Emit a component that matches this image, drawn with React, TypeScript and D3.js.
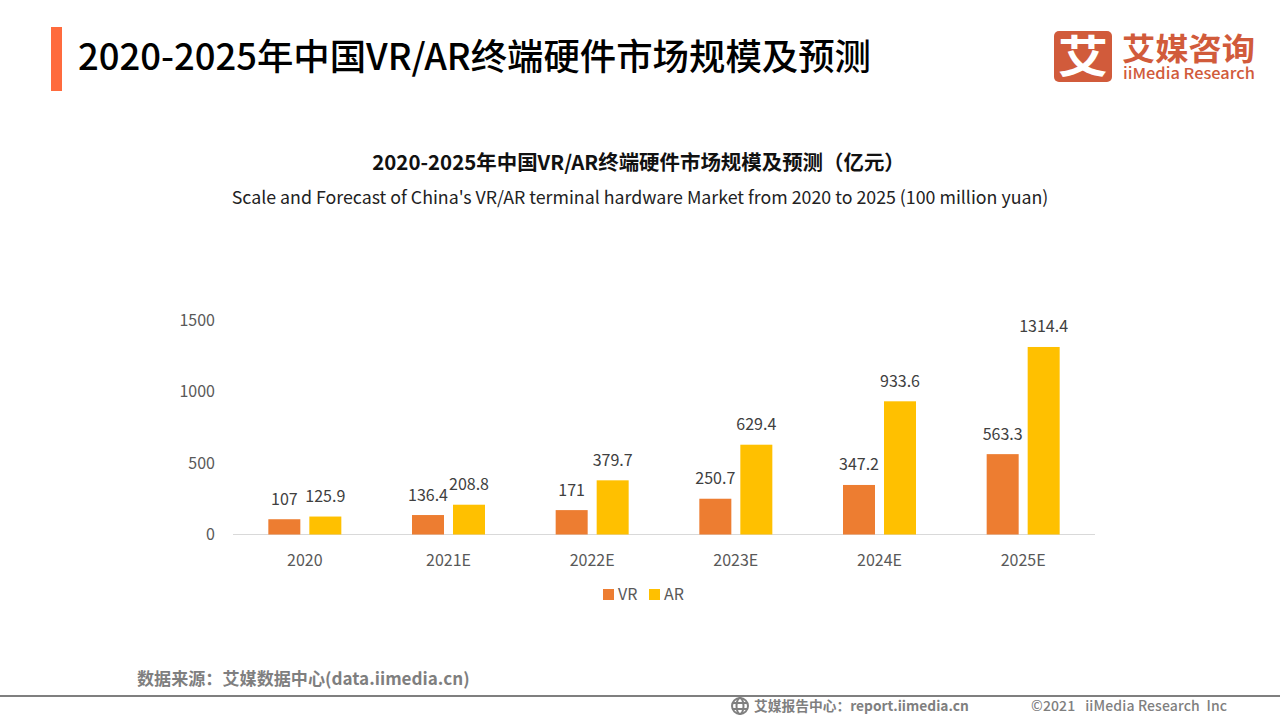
import React from "react";
import * as d3 from "d3";

const categories = ["2020", "2021E", "2022E", "2023E", "2024E", "2025E"];
const vrValues = [107, 136.4, 171, 250.7, 347.2, 563.3];
const arValues = [125.9, 208.8, 379.7, 629.4, 933.6, 1314.4];
const yTicks = [0, 500, 1000, 1500];
const seriesNames = ["VR", "AR"];
const seriesColors = ["#ED7D31", "#FFC000"];

const FONT = '"Noto Sans CJK SC", "Noto Sans", sans-serif';

export default function App() {
  const x = d3.scaleBand<string>().domain(categories).range([233, 1095]).paddingInner(0).paddingOuter(0);
  const y = d3.scaleLinear().domain([0, 1500]).range([534.5, 320.5]);
  const inner = d3.scaleBand<string>().domain(seriesNames).range([0, 73]).paddingInner(0.2195);
  const groupOffset = (x.bandwidth() - 73) / 2;
  const series = [vrValues, arValues];

  return (
    <svg width={1280} height={720} style={{ position: "absolute", left: 0, top: 0, background: "#fff" }} fontFamily={FONT}>
      <rect x={51} y={27} width={11} height={64} fill="#FF6B3D" />
      <text x={78} y={69.5} fontSize={36.4} fontWeight={500} fill="#000">2020-2025年中国VR/AR终端硬件市场规模及预测</text>

      {/* logo */}
      <rect x={1054} y={31} width={58} height={51} rx={5} fill="#D15B3B" />
      <text x={1083} y={73} fontSize={44} fontWeight={700} fill="#fff" textAnchor="middle" textLength={50} lengthAdjust="spacingAndGlyphs">艾</text>
      <text x={1122} y={60} fontSize={31} fontWeight={700} fill="#D15B3B" textLength={133} lengthAdjust="spacingAndGlyphs">艾媒咨询</text>
      <text x={1123} y={78.5} fontSize={15} fontWeight={500} fill="#D15B3B" textLength={132} lengthAdjust="spacingAndGlyphs">iiMedia Research</text>

      <text x={638.5} y={170} fontSize={20.45} fontWeight={700} fill="#111" textAnchor="middle">2020-2025年中国VR/AR终端硬件市场规模及预测（亿元）</text>
      <text x={640} y={203.5} fontSize={17.8} fill="#222" textAnchor="middle">Scale and Forecast of China's VR/AR terminal hardware Market from 2020 to 2025 (100 million yuan)</text>

      {yTicks.map((t) => (
        <text key={t} x={215} y={y(t) + 5.5} fontSize={16} fill="#595959" textAnchor="end">{t}</text>
      ))}
      <line x1={233} x2={1095} y1={y(0)} y2={y(0)} stroke="#D9D9D9" strokeWidth={1} />

      {categories.map((c, i) => (
        <g key={c}>
          {seriesNames.map((s, k) => {
            const v = series[k][i];
            const bx = (x(c) as number) + groupOffset + (inner(s) as number);
            return (
              <g key={s}>
                <rect x={bx} y={y(v)} width={inner.bandwidth()} height={y(0) - y(v)} fill={seriesColors[k]} />
                <text x={bx + inner.bandwidth() / 2} y={y(v) - 14.5} fontSize={16} fill="#404040" textAnchor="middle">{v}</text>
              </g>
            );
          })}
          <text x={(x(c) as number) + x.bandwidth() / 2} y={565.5} fontSize={16} fill="#595959" textAnchor="middle">{c}</text>
        </g>
      ))}

      {seriesNames.map((s, k) => (
        <g key={s} transform={`translate(${603 + k * 46},589)`}>
          <rect width={11} height={11} fill={seriesColors[k]} />
          <text x={15} y={11} fontSize={16} fill="#595959">{s}</text>
        </g>
      ))}

      <text x={137} y={684.5} fontSize={17.1} fontWeight={700} fill="#7F7F7F">数据来源：艾媒数据中心(data.iimedia.cn)</text>
      <line x1={0} x2={1280} y1={696} y2={696} stroke="#7F7F7F" strokeWidth={2} />

      {/* globe icon */}
      <g fill="none" stroke="#7F7F7F" strokeWidth={2}>
        <circle cx={740} cy={706} r={8} />
        <ellipse cx={740} cy={706} rx={3.5} ry={8} />
        <line x1={732} x2={748} y1={703} y2={703} />
        <line x1={732} x2={748} y1={709} y2={709} />
      </g>
      <text x={754} y={711} fontSize={13.75} fontWeight={700} fill="#7F7F7F">艾媒报告中心：report.iimedia.cn</text>
      <text x={1031} y={711} fontSize={14} fontWeight={500} fill="#7F7F7F" xmlSpace="preserve" textLength={196}>©2021   iiMedia Research  Inc</text>
    </svg>
  );
}
